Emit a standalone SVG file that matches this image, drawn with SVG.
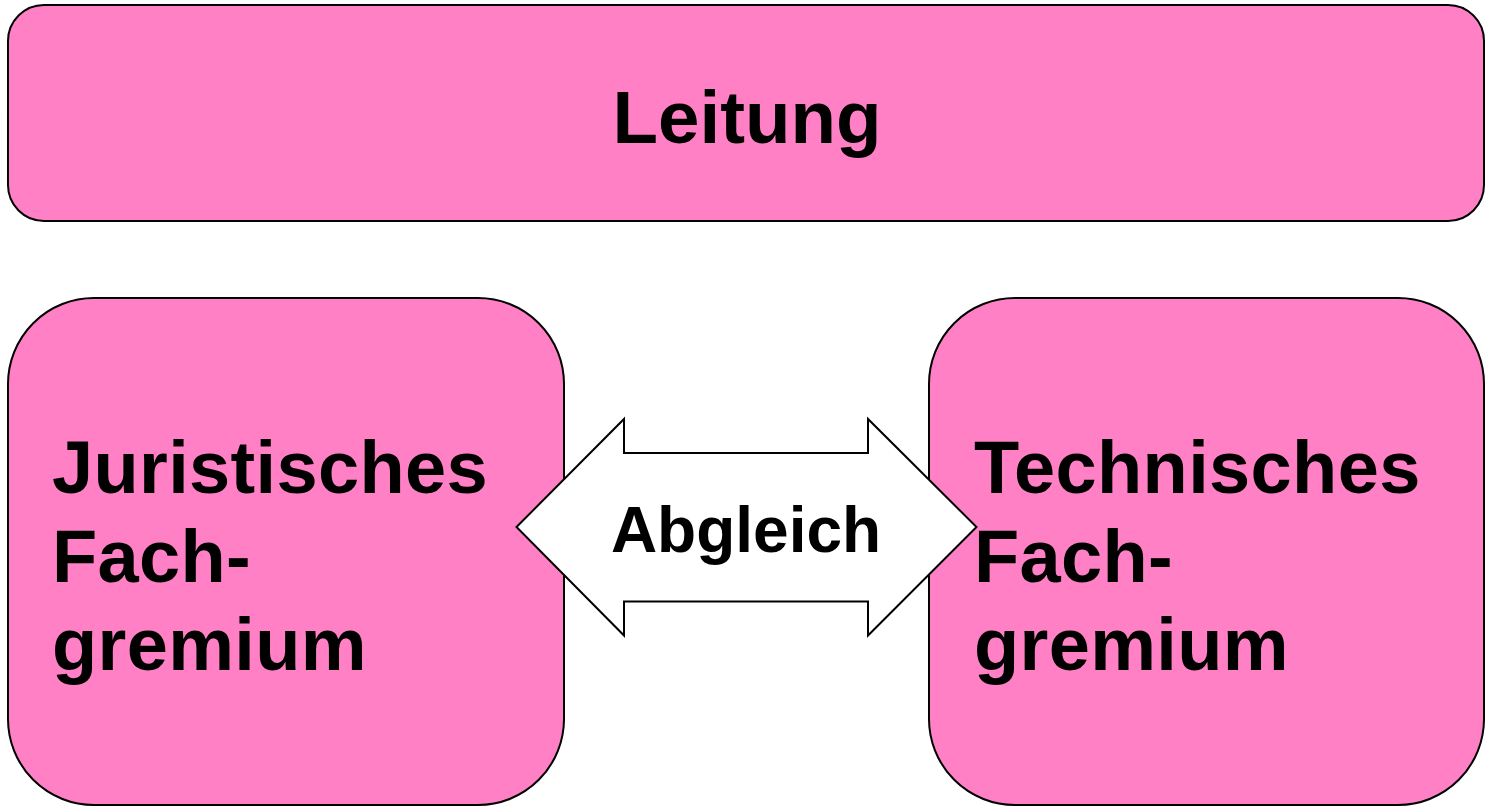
<svg xmlns="http://www.w3.org/2000/svg" width="1486" height="806" viewBox="0 0 1486 806">
<style>
.box{fill:#FF80C5;stroke:#000;stroke-width:2}
.t{font-family:"Liberation Sans",Arial,sans-serif;font-weight:bold;fill:#000}
.big{font-size:74px;letter-spacing:0.35px}
</style>
<rect width="1486" height="806" fill="#fff"/>
<g id="leitung">
<rect class="box" x="8" y="5" width="1476" height="216" rx="36" ry="36"/>
<text class="t" x="747" y="143" font-size="74.5" text-anchor="middle">Leitung</text>
</g>
<g id="juristisch">
<rect class="box" x="8" y="298" width="556" height="507" rx="86" ry="86"/>
<text class="t big"><tspan x="52" y="493">Juristisches</tspan><tspan x="52" y="582">Fach-</tspan><tspan x="52" y="670">gremium</tspan></text>
</g>
<g id="technisch">
<rect class="box" x="929" y="298" width="555" height="507" rx="86" ry="86"/>
<text class="t big"><tspan x="974" y="493">Technisches</tspan><tspan x="974" y="582">Fach-</tspan><tspan x="974" y="670">gremium</tspan></text>
</g>
<g id="connectors">
<g id="abgleich">
<polygon points="516.5,527 624,419 624,453 868,453 868,419 976.5,527 868,635.5 868,601.5 624,601.5 624,635.5" fill="#fff" stroke="#000" stroke-width="2"/>
<text class="t" x="746" y="552" font-size="64" text-anchor="middle">Abgleich</text>
</g>
</g>
</svg>
